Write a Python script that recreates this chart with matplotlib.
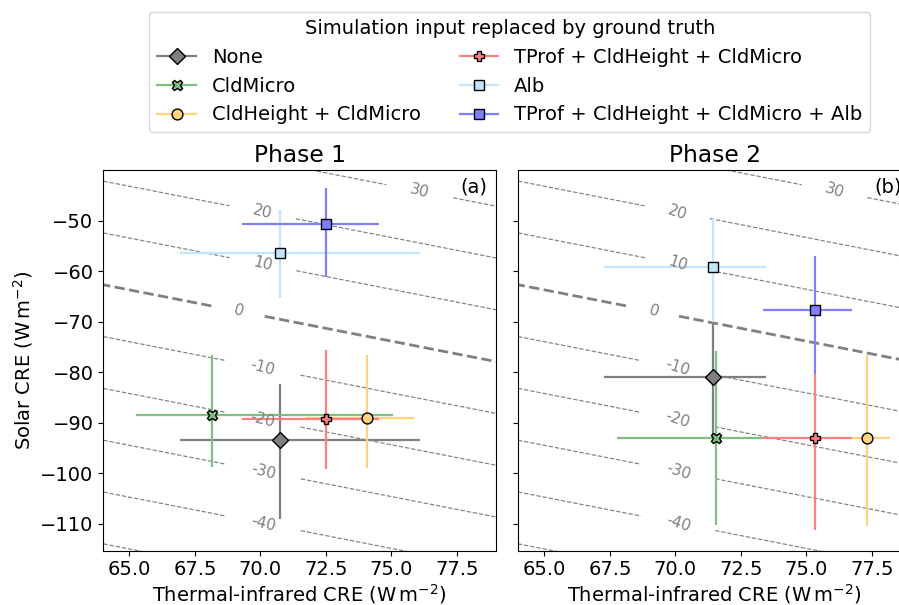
import numpy as np
import matplotlib
matplotlib.use('Agg')
import matplotlib.pyplot as plt
from matplotlib.lines import Line2D

# series, in plotting / legend order
names = ['None', 'CldMicro', 'CldHeight + CldMicro',
         'TProf + CldHeight + CldMicro', 'Alb',
         'TProf + CldHeight + CldMicro + Alb']
colors = ['#7f7f7f', '#7fbf7f', '#ffd27f', '#ff7f7f', '#c3e6fc', '#7f7fff']
markers = ['D', 'X', 'o', 'P', 's', 's']

# Phase 1: thermal-infrared (lw) and solar (sw) CRE, centre and range
lw1 = [70.74, 68.16, 74.08, 72.49, 70.74, 72.49]
lw1_lo = [66.93, 65.25, 71.74, 69.28, 66.93, 69.28]
lw1_hi = [76.10, 75.05, 75.86, 74.53, 76.10, 74.53]
sw1 = [-93.38, -88.38, -88.97, -89.29, -56.33, -50.71]
sw1_lo = [-109.07, -98.7, -99.0, -99.2, -65.4, -61.1]
sw1_hi = [-82.3, -76.6, -76.6, -75.6, -47.9, -43.6]

# Phase 2
lw2 = [71.43, 71.55, 77.31, 75.32, 71.43, 75.32]
lw2_lo = [67.28, 67.76, 76.74, 73.36, 67.28, 73.36]
lw2_hi = [73.45, 73.36, 78.19, 76.74, 73.45, 76.73]
sw2 = [-80.92, -93.1, -93.1, -93.1, -59.16, -67.67]
sw2_lo = [-92.7, -110.3, -110.5, -111.2, -69.98, -80.3]
sw2_hi = [-70.3, -75.8, -76.6, -80.3, -49.66, -57.1]

net_levels = [-50, -40, -30, -20, -10, 0, 10, 20, 30]
label_pos = [(76.1, -44.0), (70.1, -48.1), (70.1, -58.6), (69.2, -67.8),
             (70.1, -79.0), (70.1, -89.3), (70.1, -99.65), (70.1, -109.9)]

plt.rcParams['font.size'] = 14

fig = plt.figure(figsize=(8.99, 6.05), dpi=100)
ax1 = fig.add_axes([0.1149, 0.0898, 0.4368, 0.6292])
ax2 = fig.add_axes([0.5765, 0.0898, 0.4368, 0.6292], sharey=ax1)

# net CRE field for the background isolines
gx, gy = np.meshgrid(np.linspace(60, 85, 300), np.linspace(-125, -30, 300))
net = (gy + 1.013 * gx - 2.13) / 1.025


def panel(ax, lw, lw_lo, lw_hi, sw, sw_lo, sw_hi, title, tag):
    widths = [2.0 if l == 0 else 0.85 for l in net_levels]
    cs = ax.contour(gx, gy, net, levels=net_levels, colors='gray',
                    linewidths=widths, linestyles='--')
    ax.clabel(cs, fmt='%d', manual=label_pos, fontsize=11, inline=True,
              inline_spacing=11)
    for i in range(len(names)):
        xe = [[lw[i] - lw_lo[i]], [lw_hi[i] - lw[i]]]
        ye = [[sw[i] - sw_lo[i]], [sw_hi[i] - sw[i]]]
        ax.errorbar([lw[i]], [sw[i]], xerr=xe, yerr=ye, ls='none',
                    marker=markers[i], ms=7.8, mfc=colors[i], mec='k',
                    mew=1.0, ecolor=colors[i], elinewidth=1.6, capsize=0)
    ax.set_xlim(64, 79)
    ax.set_ylim(-115.3, -40)
    ax.set_xticks([65, 67.5, 70, 72.5, 75, 77.5])
    ax.set_yticks([-50, -60, -70, -80, -90, -100, -110])
    ax.set_title(title, fontsize='large')
    ax.set_xlabel(r'Thermal-infrared CRE (W$\,$m$^{-2}$)', labelpad=2)
    ax.text(0.978, 0.98, tag, transform=ax.transAxes, ha='right', va='top')


panel(ax1, lw1, lw1_lo, lw1_hi, sw1, sw1_lo, sw1_hi, 'Phase 1', '(a)')
panel(ax2, lw2, lw2_lo, lw2_hi, sw2, sw2_lo, sw2_hi, 'Phase 2', '(b)')
ax1.set_ylabel(r'Solar CRE (W$\,$m$^{-2}$)')
plt.setp(ax2.get_yticklabels(), visible=False)

hs = [Line2D([], [], color=c, lw=1.6, marker=m, ms=7.8, mfc=c, mec='k', mew=1.0)
      for c, m in zip(colors, markers)]
fig.legend(hs, names, ncol=2, loc='upper center', bbox_to_anchor=(0.567, 0.997),
           title='Simulation input replaced by ground truth')

fig.savefig('out.png', dpi=100)
